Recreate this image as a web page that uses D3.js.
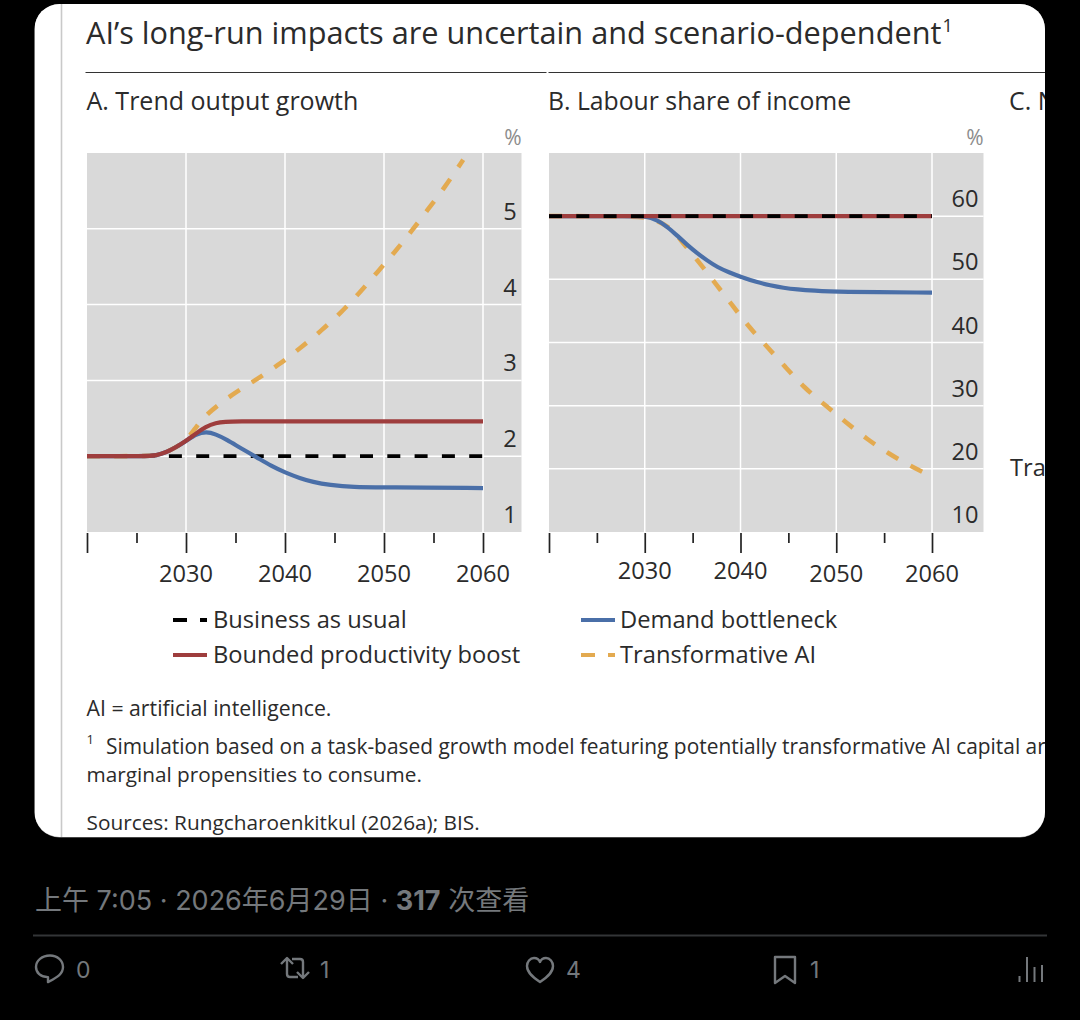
<!DOCTYPE html>
<html><head><meta charset="utf-8">
<script src="https://cdn.jsdelivr.net/npm/d3@7/dist/d3.min.js"></script>
<style>html,body{margin:0;padding:0;background:#000;overflow:hidden}svg{display:block}</style>
</head><body><svg id="c" width="1080" height="1020"></svg>
<script>
const titleText = "AI’s long-run impacts are uncertain and scenario-dependent";
const xTickYears = [2020,2025,2030,2035,2040,2045,2050,2055,2060];
const xLabelYears = [2030,2040,2050,2060];
const yTicksA = [1,2,3,4,5];
const yTicksB = [10,20,30,40,50,60];

const bauYears = [2020,2060];
const bauA = [2,2];
const bauB = [60,60];

const redYearsA = [2020,2026,2027,2028,2029,2030,2031,2032,2033,2034,2035,2040,2060];
const redA = [2,2,2.01,2.05,2.12,2.2,2.3,2.39,2.44,2.455,2.46,2.46,2.46];
const redYearsB = [2020,2060];
const redB = [60,60];

const blueYearsA = [2020,2026,2027,2028,2029,2030,2031,2032.05,2033,2034.1,2035.6,2037.1,2038.6,2040.1,2041.5,2042.8,2044.5,2046.9,2050,2060];
const blueA = [2,2,2.01,2.05,2.12,2.2,2.29,2.325,2.29,2.22,2.1,1.99,1.87,1.78,1.71,1.66,1.62,1.59,1.59,1.58];
const blueYearsB = [2020,2029,2030,2031.3,2032.3,2033.4,2034.4,2035.5,2036.5,2037.6,2038.8,2040,2041.7,2043.1,2044.5,2045.9,2047.7,2050,2060];
const blueB = [60,60,60,59.4,58.4,56.9,55.5,54.1,53,51.9,51.1,50.4,49.55,49.05,48.65,48.4,48.2,48,47.9];

const orangeYearsA = [2020,2026,2027,2028,2029,2030,2031,2032,2034.7,2037,2039.3,2041.5,2043.7,2045.7,2047.5,2049.4,2051,2052.8,2054.4,2056.1,2058];
const orangeA = [2,2,2.01,2.05,2.12,2.2,2.38,2.55,2.82,3.0,3.2,3.42,3.66,3.9,4.15,4.44,4.68,4.97,5.25,5.54,5.91];
const orangeYearsB = [2020,2030,2031,2032,2033,2033.9,2035.8,2037.4,2039.1,2040.9,2042.8,2044.7,2046.6,2048.9,2051,2053.2,2055.5,2057.9,2060];
const orangeB = [60,60,59.5,58.7,57.7,55.9,52.5,49.3,46,42.4,39.3,36.1,32.9,30,27.4,24.7,22.4,20.3,18.8];

const colors = {bau:"#000000", red:"#9e3d3d", blue:"#4a6fa8", orange:"#e3aa50"};
const FONT = "'Open Sans','Noto Sans',sans-serif";
const INK = "#2b2b2b";

const svg = d3.select("#c").style("font-family",FONT);
svg.append("rect").attr("width",1080).attr("height",1020).attr("fill","#000");
const defs = svg.append("defs");
defs.append("clipPath").attr("id","cardClip").append("rect")
  .attr("x",34.5).attr("y",4).attr("width",1010.5).attr("height",833).attr("rx",25);
svg.append("rect").attr("x",34.5).attr("y",4).attr("width",1010.5).attr("height",833.5).attr("rx",25).attr("fill","#8a8a8a");
const card = svg.append("g").attr("clip-path","url(#cardClip)");
card.append("rect").attr("x",34.5).attr("y",4).attr("width",1010.5).attr("height",833).attr("fill","#fff");
card.append("line").attr("x1",61.5).attr("x2",61.5).attr("y1",4).attr("y2",837).attr("stroke","#c9c9c9").attr("stroke-width",1.6);

// title
const t = card.append("text").attr("x",86).attr("y",44).attr("font-size",30.7).attr("fill",INK).text(titleText);
t.append("tspan").attr("font-size",18).attr("dy",-12).attr("dx",1).text("1");
card.append("line").attr("x1",85.5).attr("x2",546.5).attr("y1",72.5).attr("y2",72.5).attr("stroke","#333").attr("stroke-width",1);
card.append("line").attr("x1",548.5).attr("x2",1045).attr("y1",72.5).attr("y2",72.5).attr("stroke","#333").attr("stroke-width",1);

function panel(o){
  const g = card.append("g");
  const x = d3.scaleLinear().domain([2020,2060]).range(o.xr);
  const y = d3.scaleLinear().domain(o.yd).range([532,153]);
  g.append("rect").attr("x",o.xr[0]).attr("y",153).attr("width",o.right-o.xr[0]).attr("height",379).attr("fill","#d9d9d9");
  g.selectAll(".gy").data(o.yTicks.slice(o.skipFirst)).join("line")
    .attr("x1",o.xr[0]).attr("x2",o.right).attr("y1",d=>y(d)).attr("y2",d=>y(d)).attr("stroke","#fff").attr("stroke-width",1.5);
  g.selectAll(".gx").data(xLabelYears).join("line")
    .attr("x1",d=>x(d)).attr("x2",d=>x(d)).attr("y1",153).attr("y2",532).attr("stroke","#fff").attr("stroke-width",1.5);
  // x axis: long ticks each decade, short every five years
  const ax = g.append("g").attr("transform","translate(0,533)")
    .call(d3.axisBottom(x).tickValues(xTickYears).tickFormat("").tickSize(20).tickSizeOuter(0));
  ax.select(".domain").remove();
  ax.selectAll(".tick line").attr("stroke","#222").attr("stroke-width",1.7)
    .attr("y2",d=>d%10===0?20:10);
  g.selectAll(".xl").data(xLabelYears).join("text")
    .attr("x",d=>x(d)).attr("y",d=>582+o.xlDy(d)).attr("text-anchor","middle")
    .attr("font-size",23.6).attr("fill",INK).text(d=>d);
  g.selectAll(".yl").data(o.yTicks).join("text")
    .attr("x",o.ylx).attr("y",d=>y(d)-9).attr("text-anchor","middle")
    .attr("font-size",23.6).attr("fill",INK).text(d=>d);
  g.append("text").attr("x",o.pctX).attr("y",145).attr("text-anchor","middle").attr("font-size",21).attr("fill","#8c8c8c").text("%");
  g.append("text").attr("x",o.titleX).attr("y",110).attr("font-size",o.titleSize).attr("fill",INK).text(o.title);
  const line = d3.line().x(d=>x(d[0])).y(d=>y(d[1])).curve(d3.curveBasis);
  o.series.forEach(s=>{
    g.append("path").attr("d",line(d3.zip(s.years,s.values))).attr("fill","none")
      .attr("stroke",s.color).attr("stroke-width",s.w)
      .attr("stroke-dasharray",s.dash||null).attr("stroke-dashoffset",s.off||0);
  });
}
panel({xr:[87,483],right:521.5,yd:[1,6],yTicks:yTicksA,skipFirst:1,ylx:510,pctX:513,xlDy:()=>0,titleX:86.5,titleSize:25,
  title:"A. Trend output growth",series:[
  {years:bauYears,values:bauA,color:colors.bau,w:3.8,dash:"13 14.3"},
  {years:orangeYearsA,values:orangeA,color:colors.orange,w:4.6,dash:"13 14.3"},
  {years:blueYearsA,values:blueA,color:colors.blue,w:4.2},
  {years:redYearsA,values:redA,color:colors.red,w:4.2}
]});
panel({xr:[549,932],right:983.5,yd:[10,70],yTicks:yTicksB,skipFirst:1,ylx:965,pctX:975,xlDy:d=>d<2045?-3.5:0,titleX:548,titleSize:24.75,
  title:"B. Labour share of income",series:[
  {years:orangeYearsB,values:orangeB,color:colors.orange,w:4.6,dash:"13 14.3"},
  {years:blueYearsB,values:blueB,color:colors.blue,w:4.2},
  {years:redYearsB,values:redB,color:colors.red,w:4.2},
  {years:bauYears,values:bauB,color:colors.bau,w:3.8,dash:"13 14.3"}
]});
card.append("text").attr("x",1009).attr("y",110).attr("font-size",25).attr("fill",INK).text("C. N");
card.append("text").attr("x",1010).attr("y",476).attr("font-size",23.6).attr("fill",INK).text("Tra");

// legend
const legendNames = ["Business as usual","Bounded productivity boost","Demand bottleneck","Transformative AI"];
const legendKeys = ["bau","red","blue","orange"];
const lg = card.append("g");
legendNames.forEach((n,i)=>{
  const lx = i<2?173:581, ly = i%2?655:620;
  const dashed = legendKeys[i]==="bau"||legendKeys[i]==="orange";
  lg.append("line").attr("x1",lx).attr("x2",lx+34).attr("y1",ly).attr("y2",ly)
    .attr("stroke",colors[legendKeys[i]]).attr("stroke-width",4).attr("stroke-dasharray",dashed?"14 13":null);
  lg.append("text").attr("x",lx+(i<2?40:39)).attr("y",ly+8).attr("font-size",23.7).attr("fill",INK).text(n);
});

// notes
const note=(tx,nx,ny,fs)=>card.append("text").attr("x",nx).attr("y",ny).attr("font-size",fs).attr("fill",INK).text(tx);
note("AI = artificial intelligence.",86.5,716,21.25);
card.append("text").attr("x",86.5).attr("y",744).attr("font-size",13).attr("fill",INK).text("1");
note("Simulation based on a task-based growth model featuring potentially transformative AI capital ar",106,754,20.9);
note("marginal propensities to consume.",86.5,782,20.75);
note("Sources: Rungcharoenkitkul (2026a); BIS.",86.5,829.5,20.8);

// footer
const FT = "#74787c";
const meta = svg.append("text").attr("x",35).attr("y",910).attr("font-size",27).attr("fill",FT)
  .style("font-family","Inter,'Noto Sans CJK SC',sans-serif");
meta.append("tspan").text("上午 7:05 · 2026年6月29日 · ");
meta.append("tspan").attr("font-weight",700).text("317");
meta.append("tspan").text(" 次查看");
svg.append("line").attr("x1",33).attr("x2",1047).attr("y1",935.5).attr("y2",935.5).attr("stroke","#333537").attr("stroke-width",2);

const icons = svg.append("g").attr("fill","none").attr("stroke",FT).attr("stroke-width",2.4).attr("stroke-linejoin","round");
icons.append("path").attr("d","M50 955.5c7.5 0 13 5.3 13 11.6 0 7-5.500 9.8-15 15v-5c-7.500 0-12-4.600-12-10.200 0-6.100 6-11.400 14-11.400z");
icons.append("path").attr("d","M281 964l6-6 6 6M287 958v16c0 2 1 3 3 3h8M309 972l-6 6-6-6M303 978v-16c0-2-1-3-3-3h-8");
icons.append("path").attr("d","M540 982c-6-4-13-9-13-16 0-4 3-8 7-8 3 0 5 1.500 6 4 1-2.500 3-4 6-4 4 0 7 4 7 8 0 7-7 12-13 16z");
icons.append("path").attr("d","M775 957h20v26l-10-7-10 7z");
icons.append("path").attr("d","M1019.500 976v6M1027 957v25M1034.500 967v15M1042 965v17").attr("stroke-width",2);
const counts=[[76,"0"],[320,"1"],[566,"4"],[810,"1"]];
svg.selectAll(".cnt").data(counts).join("text").attr("x",d=>d[0]).attr("y",978).attr("font-size",23).attr("fill",FT)
  .style("font-family","Inter,sans-serif").text(d=>d[1]);
</script></body></html>
